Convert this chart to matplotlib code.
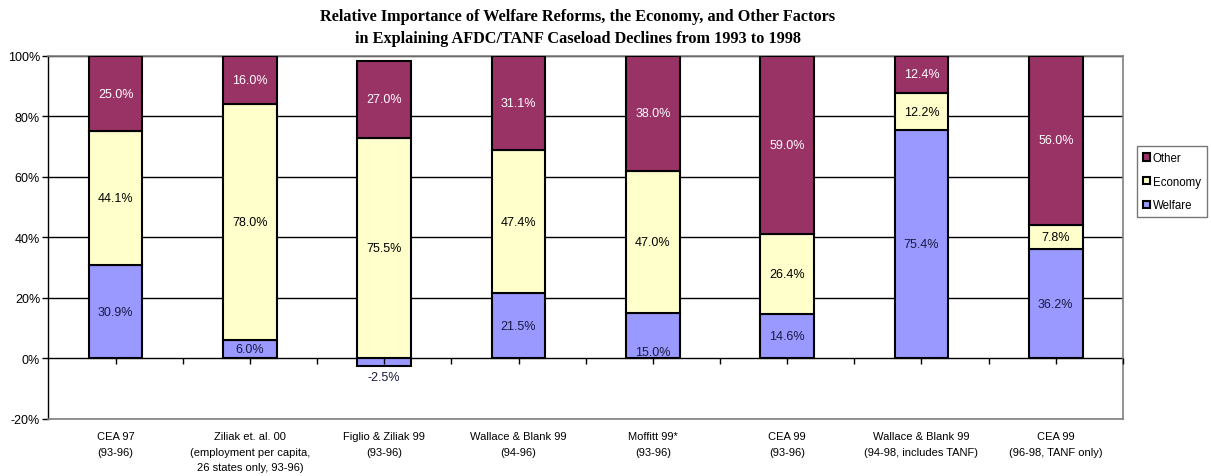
import numpy as np
import matplotlib
matplotlib.use("Agg")
import matplotlib.pyplot as plt
from matplotlib.patches import Patch

# Data (percent of caseload decline explained)
studies = ["CEA 97\n(93-96)",
           "Ziliak et. al. 00\n(employment per capita,\n26 states only, 93-96)",
           "Figlio & Ziliak 99\n(93-96)",
           "Wallace & Blank 99\n(94-96)",
           "Moffitt 99*\n(93-96)",
           "CEA 99\n(93-96)",
           "Wallace & Blank 99\n(94-98, includes TANF)",
           "CEA 99\n(96-98, TANF only)"]
welfare = [30.9, 6.0, -2.5, 21.5, 15.0, 14.6, 75.4, 36.2]
economy = [44.1, 78.0, 72.8, 47.4, 47.0, 26.4, 12.2, 7.8]
other = [25.0, 16.0, 25.6, 31.1, 38.0, 59.0, 12.4, 56.0]
# values printed on the bars (Figlio & Ziliak bar is drawn shorter than its labels)
welfare_txt = [30.9, 6.0, -2.5, 21.5, 15.0, 14.6, 75.4, 36.2]
economy_txt = [44.1, 78.0, 75.5, 47.4, 47.0, 26.4, 12.2, 7.8]
other_txt = [25.0, 16.0, 27.0, 31.1, 38.0, 59.0, 12.4, 56.0]

c_other = "#993366"
c_econ = "#FFFFCC"
c_welf = "#9999FF"

plt.rcParams['font.family'] = ['Liberation Sans', 'DejaVu Sans']

fig = plt.figure(figsize=(12.11, 4.77), dpi=100)
ax = fig.add_axes([0.040, 0.1195, 0.8873, 0.7616])

x = np.arange(len(studies))
w = 0.4
welf = np.array(welfare)
econ = np.array(economy)
oth = np.array(other)
econ_base = np.clip(welf, 0, None)

ax.bar(x, welf, w, color=c_welf, edgecolor='black', linewidth=1.5, zorder=3)
ax.bar(x, econ, w, bottom=econ_base, color=c_econ, edgecolor='black', linewidth=1.5, zorder=3)
ax.bar(x, oth, w, bottom=econ_base + econ, color=c_other, edgecolor='black', linewidth=1.5, zorder=3)

# labels on segments
fs = 9
for i in range(len(x)):
    if welf[i] < 0:
        ax.text(x[i], welf[i] - 1.5, "%.1f%%" % welfare_txt[i], ha='center', va='top',
                fontsize=fs, color='#1a1a40', zorder=5)
    else:
        yw = welf[i] / 2
        if i == 4:
            yw = welf[i] * 0.15
        ax.text(x[i], yw, "%.1f%%" % welfare_txt[i], ha='center', va='center',
                fontsize=fs, color='#1a1a40', zorder=5)
    ax.text(x[i], econ_base[i] + econ[i] / 2, "%.1f%%" % economy_txt[i], ha='center', va='center',
            fontsize=fs, color='black', zorder=5)
    ax.text(x[i], econ_base[i] + econ[i] + oth[i] / 2, "%.1f%%" % other_txt[i], ha='center',
            va='center', fontsize=fs, color='white', zorder=5)

ax.set_xlim(-0.5, len(x) - 0.5)
ax.set_ylim(-20, 100)
ax.set_yticks(np.arange(-20, 101, 20))
ax.set_yticklabels(["%d%%" % v for v in np.arange(-20, 101, 20)], fontsize=9)
ax.yaxis.grid(True, color='black', linewidth=1, zorder=0)
ax.set_axisbelow(True)
ax.tick_params(axis='y', length=4, width=1, pad=2)

ax.set_xticks(x)
ax.set_xticklabels(studies, fontsize=8, linespacing=1.65, va='top')
ax.tick_params(axis='x', length=0, pad=9)

# small tick marks on the zero line
half = np.arange(0, len(x) - 0.4, 0.5)
ax.plot(half, np.zeros(len(half)), ls='none', marker=3, ms=4, color='black', zorder=4, clip_on=False)

for side in ['top', 'right', 'bottom']:
    ax.spines[side].set_color('#808080')
    ax.spines[side].set_linewidth(1.2)
ax.spines['left'].set_color('black')
ax.spines['left'].set_linewidth(1)

fig.text(0.477, 0.982, "Relative Importance of Welfare Reforms, the Economy, and Other Factors\n"
         "in Explaining AFDC/TANF Caseload Declines from 1993 to 1998",
         ha='center', va='top', fontsize=11.7, fontweight='bold',
         family=['Liberation Serif', 'DejaVu Serif'], linespacing=1.55)

handles = [Patch(facecolor=c_other, edgecolor='black', linewidth=1.5, label='Other'),
           Patch(facecolor=c_econ, edgecolor='black', linewidth=1.5, label='Economy'),
           Patch(facecolor=c_welf, edgecolor='black', linewidth=1.5, label='Welfare')]
leg = fig.legend(handles=handles, loc='upper left', bbox_to_anchor=(0.934, 0.703),
                 fontsize=8.3, frameon=True, fancybox=False, handlelength=0.6, handleheight=0.6,
                 handletextpad=0.3, borderpad=0.5, labelspacing=1.0)
leg.get_frame().set_edgecolor('#555555')
leg.get_frame().set_linewidth(1)

fig.savefig("out.png", dpi=100)
